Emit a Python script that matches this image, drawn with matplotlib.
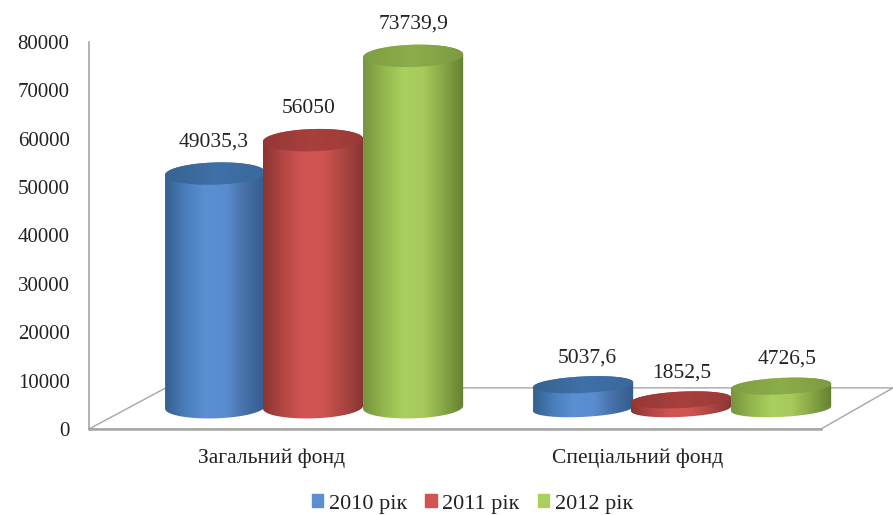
import numpy as np
import matplotlib
matplotlib.use('Agg')
import matplotlib.pyplot as plt
from matplotlib.colors import LinearSegmentedColormap
from matplotlib.patches import Patch, Polygon
from matplotlib.path import Path

plt.rcParams['font.family'] = ['Liberation Serif', 'DejaVu Serif']

categories = ['Загальний фонд', 'Спеціальний фонд']
years = ['2010 рік', '2011 рік', '2012 рік']
fund_2010 = [49035.3, 5037.6]
fund_2011 = [56050, 1852.5]
fund_2012 = [73739.9, 4726.5]
value_labels = [['49035,3', '5037,6'], ['56050', '1852,5'], ['73739,9', '4726,5']]
yticks = [0, 10000, 20000, 30000, 40000, 50000, 60000, 70000, 80000]

W, H = 893, 515
fig = plt.figure(figsize=(W / 100, H / 100), dpi=100)
ax = fig.add_axes([89 / W, (H - 429) / H, (W - 89) / W, 387 / H])
ax.set_xlim(-0.6087, 1.576)
ax.set_ylim(0, 80000)

body_colors = [
    ['#33608f', '#4a7dbb', '#5b8fd2', '#5a8dcf', '#456fa6', '#345d8c'],
    ['#8a3533', '#b34744', '#d05552', '#cf5350', '#ab4542', '#873533'],
    ['#76933c', '#93b64e', '#a9cf5e', '#a6ca5b', '#87a645', '#657f32'],
]
cap_colors = [
    ['#36638f', '#3f70a8', '#3a689c'],
    ['#953836', '#a8403d', '#9a3a38'],
    ['#7f9e42', '#8cad4b', '#7c9a40'],
]

width = 0.272
dy_ell = [2300, 1700]   # half height of the ellipses per group
base = [4500, 4200]     # bars stand back on the floor
tilt = [300, 500]       # ellipses lean a bit, more on the right
offsets = [-0.266, 0, 0.272]
persp = 0.985
label_dx = [[-0.003, 0.011], [-0.011, 0.003], [0, 0.016]]
label_dy = [4200, 3900]


def ellipse(x, y, t, c):
    return np.column_stack([x + width / 2 * np.cos(t),
                            y + dy_ell[c] * np.sin(t) + tilt[c] * np.cos(t)])


def shaded(verts, cmap, x, y0, y1, z):
    grad = np.linspace(0, 1, 256).reshape(1, -1)
    im = ax.imshow(grad, cmap=cmap, aspect='auto', interpolation='bilinear',
                   extent=(x - width / 2, x + width / 2, y0, y1), zorder=z)
    im.set_clip_path(Path(np.vstack([verts, verts[:1]])), transform=ax.transData)


# floor
floor = [(-0.6087, 0), (1.3804, 0), (1.576, 8500), (-0.4, 8500)]
ax.add_patch(Polygon(floor, closed=True, facecolor='white', edgecolor='#a6a6a6',
                     linewidth=1.0, clip_on=False, zorder=1))
ax.plot([-0.6087, 1.3804], [0, 0], color='#a6a6a6', lw=1.8, zorder=1, clip_on=False)

series = [fund_2010, fund_2011, fund_2012]
for s, vals in enumerate(series):
    body = LinearSegmentedColormap.from_list('b', body_colors[s])
    cap = LinearSegmentedColormap.from_list('c', cap_colors[s])
    for c, v in enumerate(vals):
        x = c + offsets[s]
        top = base[c] + v * persp
        low = ellipse(x, base[c], np.linspace(np.pi, 2 * np.pi, 60), c)
        upp = ellipse(x, top, np.linspace(0, np.pi, 60), c)
        z = 3 + s + c * 10
        shaded(np.vstack([low, upp]), body, x, 0, top + 4000, z)
        ring = ellipse(x, top, np.linspace(0, 2 * np.pi, 120), c)
        shaded(ring, cap, x, 0, top + 4000, z + 0.5)
        ax.text(x + label_dx[s][c], top + dy_ell[c] + label_dy[c], value_labels[s][c],
                ha='center', va='center', fontsize=15.5, color='#222222', zorder=30)

ax.set_xlim(-0.6087, 1.576)
ax.set_ylim(0, 80000)

for side in ['top', 'right', 'bottom']:
    ax.spines[side].set_visible(False)
ax.spines['left'].set_color('#a6a6a6')
ax.spines['left'].set_linewidth(1.2)

ax.set_yticks(yticks)
ax.set_xticks([-0.112, 0.883])
ax.set_xticklabels(categories)
ax.tick_params(axis='y', length=0, pad=14, labelsize=15, labelcolor='#222222')
ax.tick_params(axis='x', length=0, pad=14, labelsize=15.5, labelcolor='#222222')

handles = [Patch(color=body_colors[i][2], label=years[i]) for i in range(3)]
fig.legend(handles=handles, ncol=3, frameon=False, fontsize=16,
           loc='center', bbox_to_anchor=(472.5 / W, (H - 504) / H),
           handlelength=0.5, handleheight=0.5, handletextpad=0.25, columnspacing=0.84,
           labelcolor='#222222')

fig.savefig('out.png', dpi=100)
